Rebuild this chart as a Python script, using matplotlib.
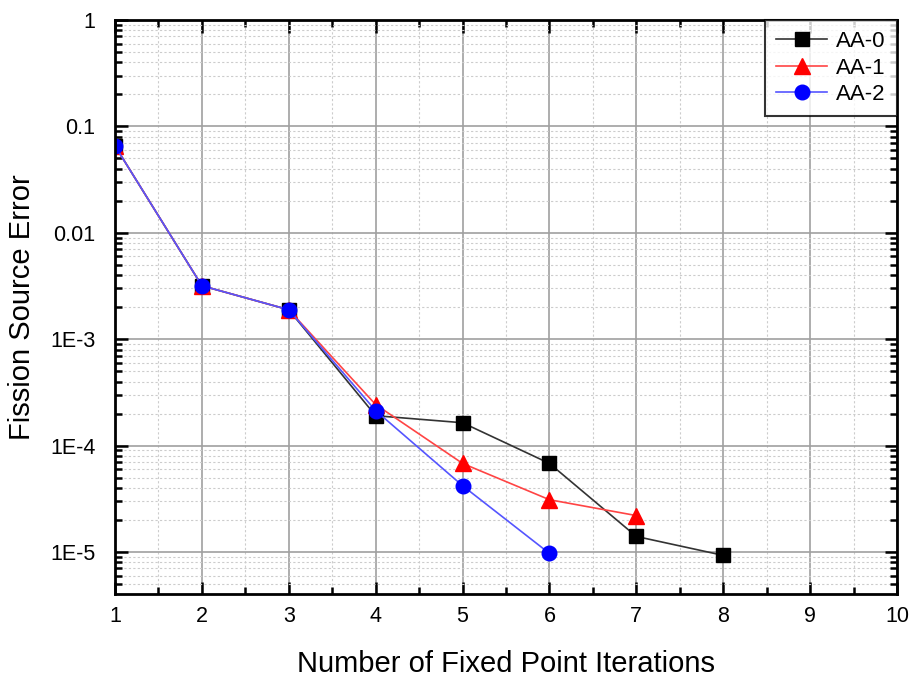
import matplotlib
matplotlib.use("Agg")
import matplotlib.pyplot as plt
from matplotlib.ticker import FixedLocator, LogLocator, NullFormatter, FixedFormatter

plt.rcParams['font.family'] = ['Liberation Sans', 'DejaVu Sans']

# data
it_aa0 = [1, 2, 3, 4, 5, 6, 7, 8]
err_aa0 = [0.0656, 3.18e-3, 1.89e-3, 1.91e-4, 1.64e-4, 6.8e-5, 1.4e-5, 9.3e-6]
it_aa1 = [1, 2, 3, 4, 5, 6, 7]
err_aa1 = [0.0656, 3.18e-3, 1.89e-3, 2.43e-4, 6.8e-5, 3.1e-5, 2.2e-5]
it_aa2 = [1, 2, 3, 4, 5, 6]
err_aa2 = [0.0656, 3.18e-3, 1.89e-3, 2.13e-4, 4.2e-5, 9.7e-6]

y_ticks = [1, 0.1, 0.01, 1e-3, 1e-4, 1e-5]
y_ticklabels = ["1", "0.1", "0.01", "1E-3", "1E-4", "1E-5"]

fig = plt.figure(figsize=(9.17, 6.79), dpi=100)
ax = fig.add_axes([115/917, 1 - 594/679, (897-115)/917, (594-20)/679])

ax.plot(it_aa0, err_aa0, color="#333333", lw=1.2, marker="s", ms=9.5,
        mfc="black", mec="black", label="AA-0")
ax.plot(it_aa1, err_aa1, color="#ff4444", lw=1.2, marker="^", ms=12,
        mfc="red", mec="red", label="AA-1")
ax.plot(it_aa2, err_aa2, color="#5555ff", lw=1.2, marker="o", ms=10.5,
        mfc="blue", mec="blue", label="AA-2")

ax.set_yscale("log")
ax.set_xlim(1, 10)
ax.set_ylim(4.03e-6, 1)

ax.xaxis.set_major_locator(FixedLocator(range(1, 11)))
ax.xaxis.set_minor_locator(FixedLocator([i + 0.5 for i in range(1, 10)]))
ax.yaxis.set_major_locator(FixedLocator(y_ticks))
ax.yaxis.set_major_formatter(FixedFormatter(y_ticklabels))
ax.yaxis.set_minor_locator(LogLocator(base=10, subs=range(2, 10)))
ax.yaxis.set_minor_formatter(NullFormatter())

ax.tick_params(which="both", direction="in", top=True, right=True, width=1.8,
               labelsize=15.5)
ax.tick_params(axis="x", pad=9)
ax.tick_params(axis="y", pad=14)
ax.tick_params(which="major", length=9)
ax.tick_params(which="minor", length=5)

ax.grid(which="major", color="#a0a0a0", lw=1.2, ls="-")
ax.grid(which="minor", color="#cccccc", lw=0.8, ls=(0, (2, 2)))
ax.set_axisbelow(True)

for sp in ax.spines.values():
    sp.set_linewidth(2)
    sp.set_color("black")

ax.set_xlabel("Number of Fixed Point Iterations", fontsize=21, labelpad=16)
ax.set_ylabel("Fission Source Error", fontsize=21, labelpad=10)

# title sits mostly above the canvas, as in the source image
fig.text(506/917, 1.012, "Number of Fixed Point Iterations", ha="center", va="center",
         fontsize=20, color="#666666")

leg = ax.legend(loc="upper right", fontsize=16, frameon=True, fancybox=False,
                borderaxespad=0, handlelength=2.3, handletextpad=0.4,
                labelspacing=0.25, borderpad=0.5)
leg.get_frame().set_edgecolor("black")
leg.get_frame().set_linewidth(1.5)

fig.savefig("out.png", dpi=100)
